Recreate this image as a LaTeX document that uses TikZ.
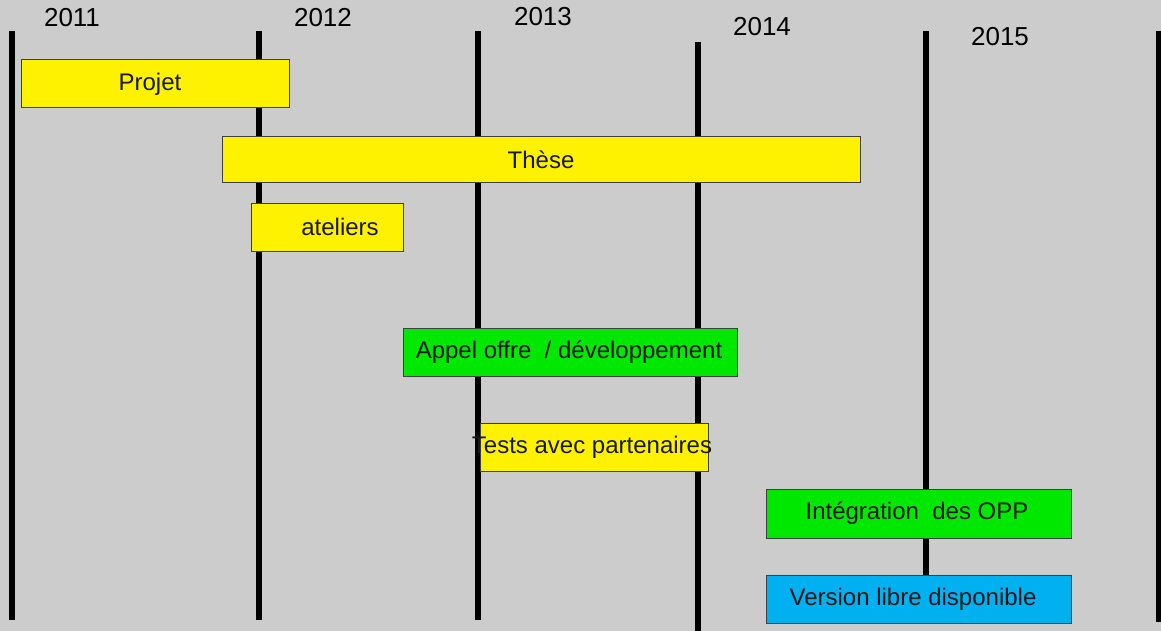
\documentclass[tikz,border=0pt]{standalone}
\usepackage{fontspec}
\setmainfont{Liberation Sans}
\definecolor{vert}{RGB}{0,232,0}
\definecolor{bleu}{RGB}{0,176,240}
\begin{document}
\begin{tikzpicture}[x=1pt, y=-1pt,
  year/.style={font=\fontsize{26}{30}\selectfont, inner sep=0pt},
  bar/.style={draw=black!75, line width=1pt},
  label/.style={font=\fontsize{24}{28}\selectfont, text=black!90, inner sep=0pt}]
  \fill[gray!40] (0,0) rectangle (1161,631);
  \useasboundingbox (0,0) rectangle (1161,631);
  % axes des années
  \foreach \x/\ya/\yb in {12/31/620, 259/31/620, 478/31/620, 698/42/631, 926/31/620, 1159/31/622}
    \draw[line width=6pt] (\x,\ya) -- (\x,\yb);
  \node[year] (y2011) at (72,18) {2011};
  \node[year] (y2012) at (323,18) {2012};
  \node[year] (y2013) at (543,17) {2013};
  \node[year] (y2014) at (762,27) {2014};
  \node[year] (y2015) at (1000,37) {2015};
  % barres
  \filldraw[bar, fill=yellow] (21,60) rectangle (289,108);
  \node[label] (projet) at (150,84) {Projet};
  \filldraw[bar, fill=yellow] (222,137) rectangle (860,183);
  \node[label] (these) at (541,160) {Thèse};
  \filldraw[bar, fill=yellow] (251,203) rectangle (403,251);
  \node[label] (ateliers) at (340,227) {ateliers};
  \filldraw[bar, fill=vert] (403,328) rectangle (737,376);
  \node[label] (appel) at (569,352) {Appel offre\ \ / développement};
  \filldraw[bar, fill=yellow] (480,423) rectangle (708,471);
  \node[label] (tests) at (592,447) {Tests avec partenaires};
  \filldraw[bar, fill=vert] (766,489) rectangle (1071,538);
  \node[label] (integration) at (917,513) {Intégration\ \ des OPP};
  \filldraw[bar, fill=bleu] (766,575) rectangle (1071,623);
  \node[label] (version) at (913,599) {Version libre disponible};
\end{tikzpicture}
\end{document}
